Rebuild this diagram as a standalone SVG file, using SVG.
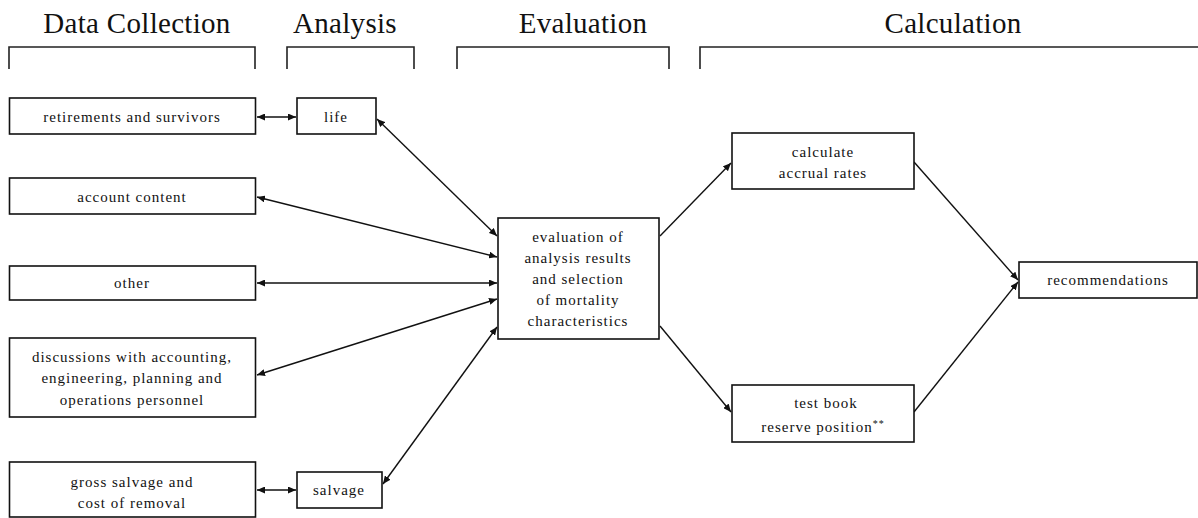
<svg xmlns="http://www.w3.org/2000/svg" width="1198" height="518" viewBox="0 0 1198 518">
  <style>
    .hdr { font-family: "Liberation Serif", "DejaVu Serif", "Times New Roman", serif; font-size: 29px; fill: #111; text-anchor: middle; letter-spacing: 0.3px; }
    .lbl { font-family: "Liberation Serif", "DejaVu Serif", "Times New Roman", serif; font-size: 15px; fill: #111; text-anchor: middle; letter-spacing: 1px; }
    .box { fill: #fff; stroke: #111; stroke-width: 1.6; }
    .brk { fill: none; stroke: #222; stroke-width: 1.6; }
    .con { fill: none; stroke: #111; stroke-width: 1.4; }
    .two { marker-start: url(#ah); marker-end: url(#ah); }
    .one { marker-end: url(#ah); }
  </style>
  <defs>
    <marker id="ah" viewBox="0 0 8 7" refX="8" refY="3.5" markerWidth="8" markerHeight="7" markerUnits="userSpaceOnUse" orient="auto-start-reverse">
      <path d="M0,0 L8,3.5 L0,7 z" fill="#111"/>
    </marker>
  </defs>

  <rect width="1198" height="518" fill="#fff"/>

  <!-- phase headings with their brackets -->
  <g id="phases" font-family="Liberation Serif, DejaVu Serif, serif">
    <text class="hdr" x="137" y="33">Data Collection</text>
    <text class="hdr" x="345" y="33">Analysis</text>
    <text class="hdr" x="583" y="33">Evaluation</text>
    <text class="hdr" x="953" y="33">Calculation</text>
    <path class="brk" d="M9,69 V47 H255 V69"/>
    <path class="brk" d="M287,69 V47 H414 V69"/>
    <path class="brk" d="M457,69 V47 H669 V69"/>
    <path class="brk" d="M700,69 V47 H1198"/>
  </g>

  <!-- connectors -->
  <g id="connectors">
    <line class="con two" x1="257" y1="117" x2="296" y2="117"/>
    <line class="con two" x1="257" y1="490" x2="296" y2="490"/>
    <line class="con two" x1="377" y1="119" x2="497" y2="236"/>
    <line class="con two" x1="257" y1="197" x2="497" y2="257"/>
    <line class="con two" x1="257" y1="283" x2="497" y2="283"/>
    <line class="con two" x1="257" y1="375" x2="497" y2="299"/>
    <line class="con two" x1="383" y1="484" x2="497" y2="327"/>
    <line class="con one" x1="660" y1="236" x2="731" y2="163"/>
    <line class="con one" x1="660" y1="326" x2="731" y2="412"/>
    <line class="con one" x1="914" y1="162" x2="1018" y2="280"/>
    <line class="con one" x1="914" y1="412" x2="1018" y2="282"/>
  </g>

  <!-- data collection -->
  <g id="retirements">
    <rect class="box" x="9.5" y="98" width="246" height="36"/>
    <text class="lbl" x="132" y="122">retirements and survivors</text>
  </g>
  <g id="account-content">
    <rect class="box" x="9.5" y="178" width="246" height="36"/>
    <text class="lbl" x="132" y="202">account content</text>
  </g>
  <g id="other">
    <rect class="box" x="9.5" y="266" width="246" height="34"/>
    <text class="lbl" x="132" y="288">other</text>
  </g>
  <g id="discussions">
    <rect class="box" x="9.5" y="338" width="246" height="79"/>
    <text class="lbl" x="132" y="362">discussions with accounting,</text>
    <text class="lbl" x="132" y="383">engineering, planning and</text>
    <text class="lbl" x="132" y="405">operations personnel</text>
  </g>
  <g id="gross-salvage">
    <rect class="box" x="9.5" y="462" width="246" height="55"/>
    <text class="lbl" x="132" y="487">gross salvage and</text>
    <text class="lbl" x="132" y="508">cost of removal</text>
  </g>

  <!-- analysis -->
  <g id="life">
    <rect class="box" x="297" y="98" width="79" height="36"/>
    <text class="lbl" x="336" y="122">life</text>
  </g>
  <g id="salvage">
    <rect class="box" x="297" y="472" width="85" height="36"/>
    <text class="lbl" x="339" y="495">salvage</text>
  </g>

  <!-- evaluation -->
  <g id="evaluation">
    <rect class="box" x="498" y="218" width="161" height="121"/>
    <text class="lbl" x="578" y="242">evaluation of</text>
    <text class="lbl" x="578" y="263">analysis results</text>
    <text class="lbl" x="578" y="284">and selection</text>
    <text class="lbl" x="578" y="305">of mortality</text>
    <text class="lbl" x="578" y="326">characteristics</text>
  </g>

  <!-- calculation -->
  <g id="accrual-rates">
    <rect class="box" x="732" y="133" width="182" height="56"/>
    <text class="lbl" x="823" y="157">calculate</text>
    <text class="lbl" x="823" y="178">accrual rates</text>
  </g>
  <g id="book-reserve">
    <rect class="box" x="732" y="385" width="182" height="57"/>
    <text class="lbl" x="826" y="408">test book</text>
    <text class="lbl" x="823" y="432">reserve position<tspan font-size="10" dy="-5">**</tspan></text>
  </g>
  <g id="recommendations">
    <rect class="box" x="1019" y="262" width="178" height="36"/>
    <text class="lbl" x="1108" y="285">recommendations</text>
  </g>
</svg>
